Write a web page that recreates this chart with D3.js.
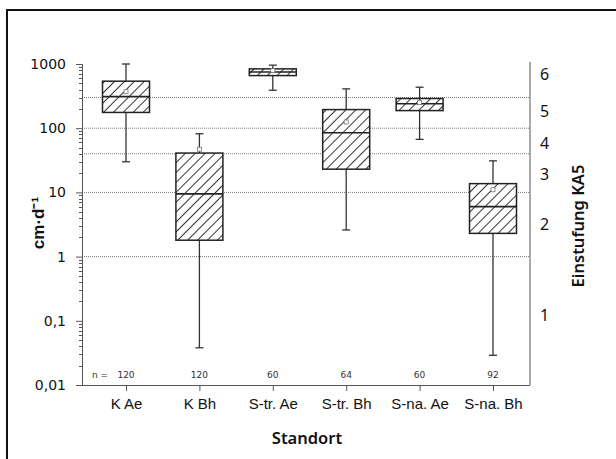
<!DOCTYPE html>
<html>
<head>
<meta charset="utf-8">
<script src="https://cdn.jsdelivr.net/npm/d3@7"></script>
<style>
  body { margin: 0; background: #fff; }
  svg { display: block; }
</style>
</head>
<body>
<div id="main"></div>
<script>
var width = 616,
    height = 459;

// data
var categories = ["K Ae", "K Bh", "S-tr. Ae", "S-tr. Bh", "S-na. Ae", "S-na. Bh"];
var nValues = [120, 120, 60, 64, 60, 92];
var whiskerLow = [30, 0.038, 390, 2.6, 67, 0.029];
var q1 = [176, 1.8, 660, 23, 188, 2.3];
var medians = [310, 9.5, 750, 85, 240, 6];
var q3 = [540, 41, 840, 195, 290, 13.7];
var whiskerHigh = [1000, 82, 960, 410, 435, 31];
var means = [370, 47, 790, 125, 250, 11];

var yTicks = [0.01, 0.1, 1, 10, 100, 1000];
var classBounds = [1, 10, 40, 100, 300];
var classLabels = ["1", "2", "3", "4", "5", "6"];
var classLabelPos = [0.12, 3.2, 19, 58, 180, 700];

var plotLeft = 82, plotRight = 530, plotTop = 64, plotBottom = 385;

var svg = d3.select("#main").append("svg")
    .attr("width", width)
    .attr("height", height);

// outer frame (cut off at right and bottom like the picture)
svg.append("rect")
    .attr("x", 7).attr("y", 10)
    .attr("width", 640).attr("height", 480)
    .attr("fill", "none")
    .attr("stroke", "#111")
    .attr("stroke-width", 2);

var defs = svg.append("defs");
var pat = defs.append("pattern")
    .attr("id", "hatch")
    .attr("patternUnits", "userSpaceOnUse")
    .attr("width", 7).attr("height", 7)
    .attr("patternTransform", "rotate(45)");
pat.append("rect").attr("width", 7).attr("height", 7).attr("fill", "#fff");
pat.append("line")
    .attr("x1", 0.5).attr("y1", 0).attr("x2", 0.5).attr("y2", 7)
    .attr("stroke", "#333").attr("stroke-width", 1);

var y = d3.scaleLog()
    .domain([0.01, 1000])
    .range([plotBottom, plotTop]);

var x = d3.scalePoint()
    .domain(categories)
    .range([126, 493]);

var locale = d3.formatLocale({decimal: ",", thousands: ".", grouping: [3], currency: ["", "€"]});
function fmt(d) {
  if (d >= 1) return String(d);
  return locale.format(",." + Math.round(-Math.log10(d)) + "f")(d);
}

// class boundary lines
svg.selectAll("line.grid")
    .data(classBounds)
    .enter().append("line")
    .attr("class", "grid")
    .attr("x1", plotLeft).attr("x2", plotRight)
    .attr("y1", function(d) { return y(d); })
    .attr("y2", function(d) { return y(d); })
    .attr("stroke", "#777")
    .attr("stroke-width", 1)
    .attr("stroke-dasharray", "1,1");

// minor ticks
var minor = y.ticks().filter(function(d) { return yTicks.indexOf(d) < 0; });
svg.selectAll("line.minor")
    .data(minor)
    .enter().append("line")
    .attr("class", "minor")
    .attr("x1", plotLeft - 3).attr("x2", plotLeft)
    .attr("y1", function(d) { return Math.round(y(d)) + 0.5; })
    .attr("y2", function(d) { return Math.round(y(d)) + 0.5; })
    .attr("stroke", "#555");

// left axis
var yAxis = svg.append("g")
    .attr("transform", "translate(" + plotLeft + ",0)")
    .call(d3.axisLeft(y).tickValues(yTicks).tickFormat(fmt).tickSize(6).tickPadding(10));
yAxis.select(".domain").attr("stroke", "#555");
yAxis.selectAll(".tick line").attr("stroke", "#555");
yAxis.selectAll("text")
    .attr("font-family", "DejaVu Sans, Verdana, sans-serif")
    .attr("font-size", 14)
    .attr("fill", "#111");

// right axis line + class labels
svg.append("line")
    .attr("x1", plotRight).attr("x2", plotRight)
    .attr("y1", plotTop - 2).attr("y2", plotBottom)
    .attr("stroke", "#555");

svg.selectAll("text.cls")
    .data(classLabels)
    .enter().append("text")
    .attr("class", "cls")
    .attr("x", 540)
    .attr("y", function(d, i) { return y(classLabelPos[i]); })
    .attr("dy", "0.35em")
    .attr("font-family", "Noto Sans, sans-serif")
    .attr("font-size", 16)
    .attr("fill", "#111")
    .text(function(d) { return d; });

// bottom axis
var xAxis = svg.append("g")
    .attr("transform", "translate(0," + plotBottom + ")")
    .call(d3.axisBottom(x).tickSize(6).tickPadding(7).tickSizeOuter(0));
xAxis.select(".domain").attr("d", "M" + plotLeft + ",0.5H" + plotRight).attr("stroke", "#555");
xAxis.selectAll(".tick line").attr("stroke", "#555");
xAxis.selectAll("text")
    .attr("font-family", "Liberation Sans, Arial, sans-serif")
    .attr("font-size", 15)
    .attr("fill", "#111");

// n labels
svg.selectAll("text.n")
    .data(nValues)
    .enter().append("text")
    .attr("class", "n")
    .attr("x", function(d, i) { return x(categories[i]); })
    .attr("y", 378)
    .attr("text-anchor", "middle")
    .attr("font-family", "DejaVu Sans, Verdana, sans-serif")
    .attr("font-size", 9)
    .attr("fill", "#333")
    .text(function(d) { return d; });
svg.append("text")
    .attr("x", 92).attr("y", 378)
    .attr("font-family", "DejaVu Sans, Verdana, sans-serif")
    .attr("font-size", 9)
    .attr("fill", "#333")
    .text("n =");

// boxes
var boxW = 47, capW = 8;
var boxes = svg.selectAll("g.box")
    .data(categories)
    .enter().append("g")
    .attr("class", "box")
    .attr("transform", function(d) { return "translate(" + x(d) + ",0)"; });

boxes.append("line")
    .attr("x1", 0).attr("x2", 0)
    .attr("y1", function(d, i) { return y(whiskerLow[i]); })
    .attr("y2", function(d, i) { return y(whiskerHigh[i]); })
    .attr("stroke", "#333").attr("stroke-width", 1.3);
boxes.append("line")
    .attr("x1", -capW / 2).attr("x2", capW / 2)
    .attr("y1", function(d, i) { return y(whiskerLow[i]); })
    .attr("y2", function(d, i) { return y(whiskerLow[i]); })
    .attr("stroke", "#333").attr("stroke-width", 1.3);
boxes.append("line")
    .attr("x1", -capW / 2).attr("x2", capW / 2)
    .attr("y1", function(d, i) { return y(whiskerHigh[i]); })
    .attr("y2", function(d, i) { return y(whiskerHigh[i]); })
    .attr("stroke", "#333").attr("stroke-width", 1.3);

boxes.append("rect")
    .attr("x", -boxW / 2)
    .attr("y", function(d, i) { return y(q3[i]); })
    .attr("width", boxW)
    .attr("height", function(d, i) { return y(q1[i]) - y(q3[i]); })
    .attr("fill", "url(#hatch)")
    .attr("stroke", "#222")
    .attr("stroke-width", 1.5);

boxes.append("line")
    .attr("x1", -boxW / 2).attr("x2", boxW / 2)
    .attr("y1", function(d, i) { return y(medians[i]); })
    .attr("y2", function(d, i) { return y(medians[i]); })
    .attr("stroke", "#222").attr("stroke-width", 1.6);

boxes.append("rect")
    .attr("x", -2)
    .attr("y", function(d, i) { return y(means[i]) - 2; })
    .attr("width", 4).attr("height", 4)
    .attr("fill", "#fff")
    .attr("stroke", "#777")
    .attr("stroke-width", 0.8);

// axis titles
svg.append("text")
    .attr("transform", "translate(44,223) rotate(-90)")
    .attr("text-anchor", "middle")
    .attr("font-family", "Liberation Sans, Arial, sans-serif")
    .attr("font-weight", "bold")
    .attr("font-size", 17)
    .attr("fill", "#111")
    .text("cm·d⁻¹");

svg.append("text")
    .attr("transform", "translate(584,226) rotate(-90)")
    .attr("text-anchor", "middle")
    .attr("font-family", "Noto Sans, sans-serif")
    .attr("font-weight", 600)
    .attr("font-size", 16.5)
    .attr("fill", "#111")
    .text("Einstufung KA5");

svg.append("text")
    .attr("x", 307).attr("y", 444)
    .attr("text-anchor", "middle")
    .attr("font-family", "Noto Sans, sans-serif")
    .attr("font-weight", 600)
    .attr("font-size", 16.5)
    .attr("fill", "#111")
    .text("Standort");
</script>
</body>
</html>
